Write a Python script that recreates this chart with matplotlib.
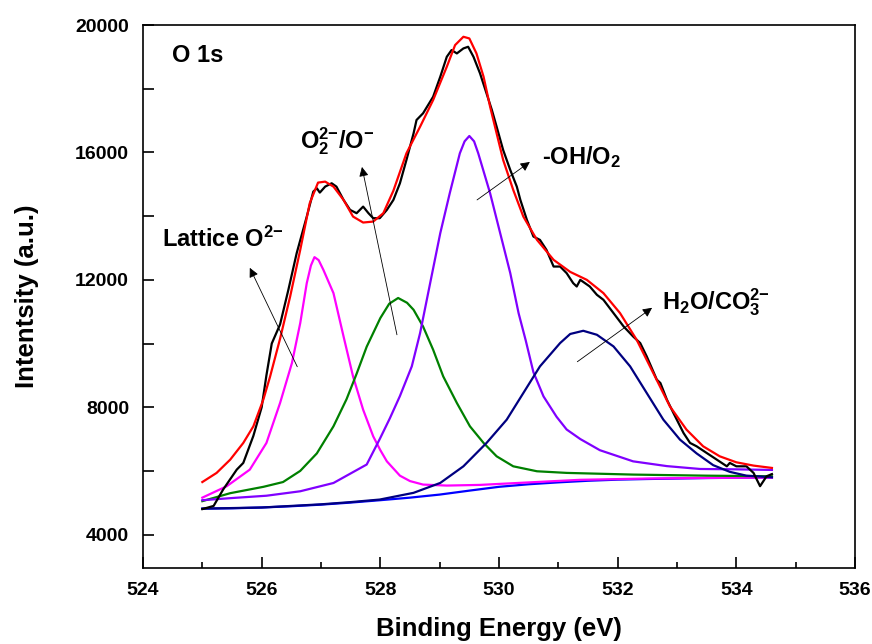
import matplotlib
matplotlib.use("Agg")
import matplotlib.pyplot as plt
from matplotlib.ticker import MultipleLocator

plt.rcParams["font.family"] = ["Liberation Sans", "DejaVu Sans"]
plt.rcParams["font.weight"] = "bold"
plt.rcParams["mathtext.fontset"] = "custom"
plt.rcParams["mathtext.rm"] = "Liberation Sans:bold"
plt.rcParams["mathtext.bf"] = "Liberation Sans:bold"
plt.rcParams["mathtext.default"] = "bf"

# raw O 1s spectrum (black)
raw_e = [525.00, 525.19, 525.35, 525.58, 525.69, 525.86, 526.00, 526.08, 526.17, 526.31,
         526.45, 526.59, 526.76, 526.87, 526.93, 526.98, 527.07, 527.18, 527.26, 527.38,
         527.49, 527.60, 527.71, 527.80, 527.88, 527.99, 528.11, 528.22, 528.33, 528.44,
         528.56, 528.61, 528.72, 528.89, 529.01, 529.12, 529.20, 529.29, 529.40, 529.48,
         529.57, 529.68, 529.79, 529.88, 529.96, 530.07, 530.19, 530.30, 530.36, 530.47,
         530.58, 530.69, 530.80, 530.92, 531.03, 531.14, 531.25, 531.31, 531.37, 531.53,
         531.65, 531.76, 531.93, 532.10, 532.26, 532.38, 532.49, 532.66, 532.72, 532.83,
         532.94, 533.11, 533.22, 533.33, 533.50, 533.67, 533.84, 533.89, 534.00, 534.17,
         534.29, 534.40, 534.51, 534.60]
raw_i = [4800, 4900, 5413, 6040, 6250, 7100, 8000, 9000, 10000, 10600,
         11687, 12838, 13987, 14771, 14876, 14740, 14928, 15033, 14928, 14510,
         14197, 14093, 14300, 14093, 13936, 13936, 14197, 14510, 15033, 15765,
         16600, 17020, 17230, 17750, 18378, 19005, 19216, 19111, 19268, 19320,
         19005, 18485, 17855, 17333, 16810, 16078, 15450, 14928, 14510, 13883,
         13360, 13255, 12942, 12418, 12418, 12210, 11897, 11791, 12000, 11791,
         11530, 11373, 10955, 10537, 10222, 10015, 9595, 8864, 8760, 8236,
         7818, 7190, 6878, 6773, 6563, 6354, 6144, 6250, 6144, 6144,
         5936, 5520, 5831, 5900]

# fitted envelope (red)
fit_e = [525.00, 525.24, 525.47, 525.69, 525.86, 526.03, 526.14, 526.31, 526.48, 526.65,
         526.81, 526.95, 527.07, 527.21, 527.38, 527.54, 527.71, 527.88, 528.05, 528.22,
         528.44, 528.67, 528.89, 529.12, 529.26, 529.40, 529.50, 529.62, 529.74, 529.85,
         529.96, 530.07, 530.24, 530.41, 530.64, 530.92, 531.20, 531.48, 531.76, 532.04,
         532.32, 532.60, 532.88, 533.16, 533.44, 533.72, 534.00, 534.29, 534.60]
fit_i = [5650, 5936, 6354, 6878, 7400, 8250, 8950, 10150, 11477, 12942,
         14406, 15054, 15085, 14928, 14510, 13987, 13800, 13830, 14093, 14800,
         15975, 16810, 17647, 18692, 19373, 19634, 19582, 19111, 18378, 17437,
         16600, 15765, 14824, 13987, 13255, 12628, 12250, 12000, 11583, 10955,
         10118, 9073, 8027, 7296, 6773, 6458, 6270, 6166, 6093]

# Shirley background (blue)
bg_e = [525.0, 525.5, 526.0, 526.5, 527.0, 527.5, 528.0, 528.5, 529.0, 529.5,
        530.0, 530.5, 531.0, 531.5, 532.0, 532.5, 533.0, 533.5, 534.0, 534.6]
bg_i = [4815, 4825, 4850, 4890, 4940, 5005, 5080, 5160, 5256, 5380,
        5500, 5580, 5640, 5690, 5725, 5745, 5760, 5775, 5785, 5790]

# lattice O2- component (magenta)
lat_e = [525.00, 525.41, 525.80, 526.08, 526.31, 526.51, 526.65, 526.76, 526.83, 526.89,
         526.96, 527.04, 527.21, 527.38, 527.54, 527.71, 527.88, 528.00, 528.11, 528.33,
         528.50, 528.72, 529.12, 529.68, 530.52, 531.37, 532.50, 533.50, 534.60]
lat_i = [5160, 5517, 6040, 6877, 8132, 9387, 10642, 11897, 12450, 12713,
         12620, 12314, 11583, 10222, 8967, 7922, 7085, 6650, 6300, 5850,
         5680, 5570, 5539, 5560, 5640, 5720, 5760, 5780, 5790]

# O2^2-/O- component (green)
per_e = [525.00, 525.47, 526.03, 526.36, 526.65, 526.93, 527.21, 527.43, 527.60, 527.77,
         528.00, 528.15, 528.30, 528.45, 528.56, 528.72, 528.89, 529.06, 529.29, 529.51,
         529.74, 529.96, 530.24, 530.64, 531.14, 532.26, 533.50, 534.60]
per_i = [5050, 5300, 5500, 5650, 6000, 6550, 7400, 8250, 9050, 9900,
         10800, 11250, 11430, 11280, 11060, 10535, 9805, 8967, 8132, 7400,
         6878, 6458, 6144, 5988, 5937, 5884, 5850, 5831]

# -OH/O2 component (violet)
oh_e = [525.00, 525.52, 526.08, 526.65, 527.21, 527.77, 527.99, 528.16, 528.33, 528.53,
        528.67, 528.84, 529.01, 529.17, 529.34, 529.42, 529.50, 529.58, 529.65, 529.85,
        530.02, 530.19, 530.33, 530.45, 530.58, 530.75, 530.97, 531.14, 531.37, 531.70,
        532.26, 532.83, 533.39, 533.95, 534.60]
oh_i = [5080, 5150, 5220, 5360, 5620, 6200, 7000, 7650, 8350, 9282,
        10328, 11900, 13465, 14720, 15975, 16350, 16518, 16350, 15975, 14720,
        13465, 12210, 10955, 10100, 9100, 8340, 7700, 7300, 7000, 6650,
        6300, 6150, 6060, 6050, 6030]

# H2O/CO3 2- component (navy)
wat_e = [525.00, 526.00, 527.00, 527.50, 527.99, 528.56, 529.01, 529.40, 529.79, 530.13,
         530.41, 530.69, 531.03, 531.20, 531.42, 531.65, 531.93, 532.21, 532.49, 532.77,
         533.05, 533.33, 533.61, 533.89, 534.17, 534.60]
wat_i = [4815, 4850, 4950, 5020, 5100, 5311, 5622, 6144, 6878, 7609,
         8445, 9282, 10015, 10300, 10400, 10275, 9909, 9282, 8445, 7609,
         6982, 6550, 6180, 5970, 5850, 5800]

# "{-}" keeps mathtext from spacing the charge sign like a binary minus
labels = ["O 1s", r"Lattice O$^{2{-}}$", r"O$_2^{2{-}}$/O$^{{-}}$", r"-OH/O$_2$", r"H$_2$O/CO$_3^{2{-}}$"]
label_pos = [(524.49, 18850), (524.32, 13046), (526.65, 16132), (530.73, 15640), (532.75, 11080)]
arrow_tail = [(526.60, 9271), (528.28, 10275), (529.63, 14510), (531.32, 9428)]
arrow_head = [(525.80, 12377), (527.69, 15545), (530.52, 15702), (532.58, 11122)]

fig = plt.figure(figsize=(8.72, 6.44), dpi=100)
ax = fig.add_axes([0.164, 0.118, 0.8165, 0.843])

lw = 1.6
ax.plot(bg_e, bg_i, color="#0000FF", lw=lw)
ax.plot(lat_e, lat_i, color="#FF00FF", lw=lw)
ax.plot(per_e, per_i, color="#008000", lw=lw)
ax.plot(oh_e, oh_i, color="#8000FF", lw=lw)
ax.plot(wat_e, wat_i, color="#000080", lw=lw)
ax.plot(raw_e, raw_i, color="black", lw=lw)
ax.plot(fit_e, fit_i, color="#FF0000", lw=lw)

for text, (x, y) in zip(labels, label_pos):
    ax.text(x, y, text, fontsize=17, fontweight="bold", va="baseline", ha="left")

for tail, head in zip(arrow_tail, arrow_head):
    ax.annotate("", xy=head, xytext=tail,
                arrowprops=dict(arrowstyle="-|>", color="black", lw=0.6,
                                mutation_scale=14, shrinkA=0, shrinkB=0))

ax.set_xlim(524, 536)
ax.set_ylim(2950, 20000)
ax.xaxis.set_major_locator(MultipleLocator(2))
ax.xaxis.set_minor_locator(MultipleLocator(1))
ax.yaxis.set_major_locator(MultipleLocator(4000))
ax.yaxis.set_minor_locator(MultipleLocator(2000))
ax.tick_params(which="both", direction="in", top=False, right=False, width=1.2)
ax.tick_params(which="major", length=8, pad=10, labelsize=14)
ax.tick_params(axis="x", which="minor", length=4.5)
ax.tick_params(axis="y", which="minor", length=8)
for tick in ax.get_xticklabels() + ax.get_yticklabels():
    tick.set_fontweight("bold")
for sp in ax.spines.values():
    sp.set_linewidth(1.2)

ax.set_xlabel("Binding Energy (eV)", fontsize=18.5, fontweight="bold", labelpad=13)
ax.set_ylabel("Intentsity (a.u.)", fontsize=18.5, fontweight="bold", labelpad=26)

fig.savefig("out.png", dpi=100)
